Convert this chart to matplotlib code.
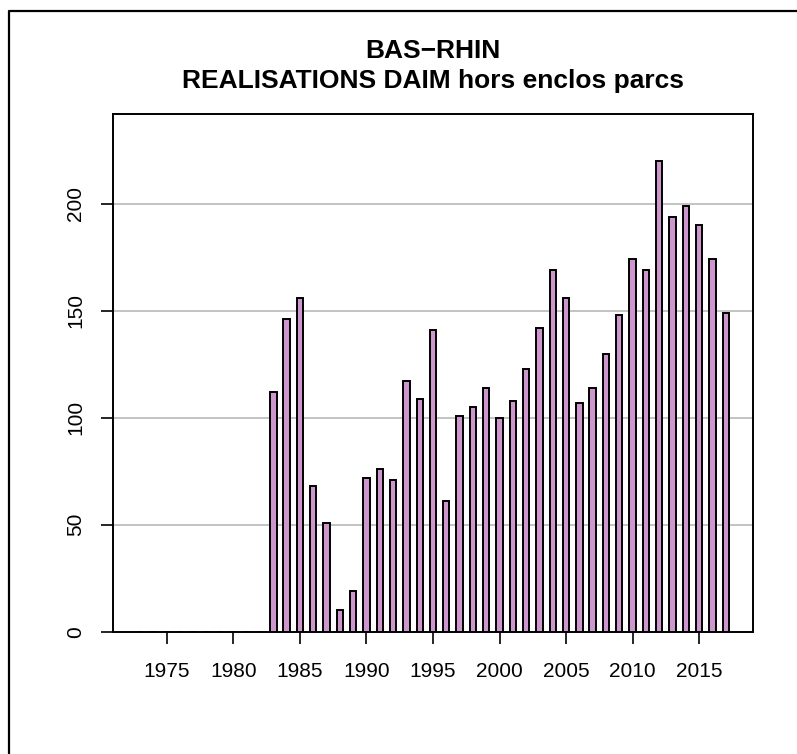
#Bas-Rhin daim realisations bar chart
import numpy as np
import matplotlib.pyplot as plt
from matplotlib.lines import Line2D

plt.rcParams['font.family'] = ['Liberation Sans', 'DejaVu Sans']

#yearly values (1973 to 2017)
years = list(range(1973, 2018))
realisations = [0, 0, 0, 0, 0, 0, 0, 0, 0, 0,
                112, 146, 156, 68, 51, 10, 19, 72, 76, 71,
                117, 109, 141, 61, 101, 105, 114, 100, 108, 123,
                142, 169, 156, 107, 114, 130, 148, 174, 169, 220,
                194, 199, 190, 174, 149]
tick_years = [1975, 1980, 1985, 1990, 1995, 2000, 2005, 2010, 2015]
grid_levels = [50, 100, 150, 200]

fig = plt.figure(figsize=(7.97, 7.54), dpi=100)
ax = fig.add_axes([113 / 797, 1 - 631.7 / 754, 640 / 797, 517.7 / 754])

#grey horizontal grid behind the bars
for g in grid_levels:
    ax.axhline(g, color='#BEBEBE', lw=1.3, zorder=0)

ax.bar(years, realisations, width=0.48, color='#CD96CD',
       edgecolor='black', linewidth=1.4, zorder=2)

ax.set_xlim(1970.95, 2019.05)
ax.set_ylim(0, 242)

ax.set_xticks(tick_years)
ax.set_xticklabels([str(y) for y in tick_years])
ax.set_yticks([0] + grid_levels)
ax.set_yticklabels(['0'] + [str(g) for g in grid_levels], rotation=90, va='center')
ax.tick_params(axis='x', length=8.5, width=1.2, pad=13, labelsize=15)
ax.tick_params(axis='y', length=9, width=1.2, pad=11, labelsize=15)
for s in ax.spines.values():
    s.set_linewidth(1.4)

#two line bold title
cx = (113 + 753) / 2 / 797
fig.text(cx, 1 - 57.7 / 754, 'BAS\u2212RHIN', ha='center', va='baseline',
         fontsize=19, fontweight='bold')
fig.text(cx, 1 - 88.3 / 754, 'REALISATIONS DAIM hors enclos parcs', ha='center',
         va='baseline', fontsize=19, fontweight='bold')

#outer frame (only top and left edges are visible in the crop)
fx = 9 / 797
fy = 1 - 11 / 754
fig.add_artist(Line2D([fx, fx, 1.01], [-0.01, fy, fy], transform=fig.transFigure,
                      color='black', lw=1.6))

fig.savefig('out.png', dpi=100)
